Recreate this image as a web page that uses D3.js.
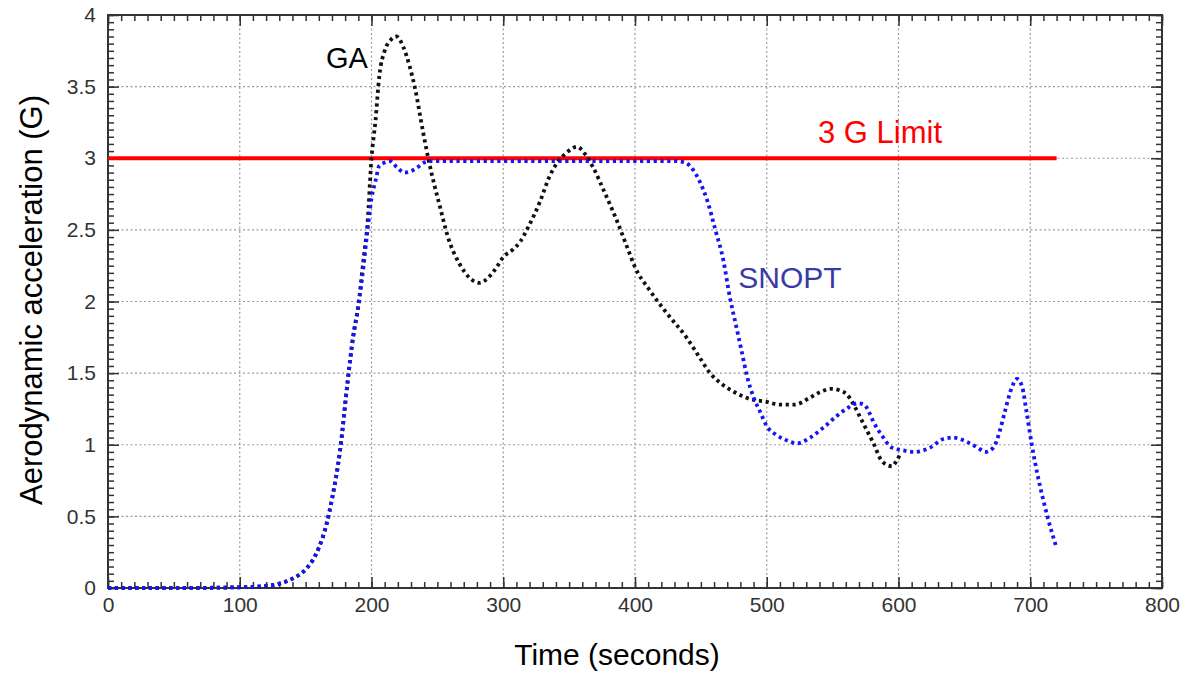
<!DOCTYPE html>
<html>
<head>
<meta charset="utf-8">
<script src="https://cdn.jsdelivr.net/npm/d3@7"></script>
<style>
  html, body { margin: 0; padding: 0; background: #fff; }
  svg { display: block; font-family: "Liberation Sans", Arial, sans-serif; }
</style>
</head>
<body>
<svg id="chart" width="1188" height="674"></svg>
<script>
// ---- Data ----
const gaTime = [0, 50, 100, 120, 130, 140, 150, 157, 160, 166, 170, 176, 182, 186, 190, 194, 197, 200, 203, 206, 210, 215, 219, 224, 229, 233, 239, 244, 252, 258, 267, 275, 282, 289, 295, 300, 307, 313, 319, 328, 335, 341, 347, 356, 362, 368, 377, 386, 394, 400, 411, 424, 439, 449, 457, 465, 475, 487, 500, 510, 521, 533, 541, 549, 555, 561, 566, 571, 576, 581, 587, 591, 595, 598, 601];
const gaAccel = [0, 0, 0.005, 0.015, 0.03, 0.065, 0.13, 0.22, 0.28, 0.45, 0.62, 0.95, 1.45, 1.75, 1.97, 2.3, 2.55, 3.0, 3.26, 3.58, 3.75, 3.83, 3.85, 3.78, 3.64, 3.49, 3.19, 2.96, 2.66, 2.45, 2.26, 2.16, 2.13, 2.17, 2.24, 2.31, 2.36, 2.42, 2.52, 2.70, 2.87, 2.97, 3.03, 3.08, 3.03, 2.94, 2.76, 2.57, 2.38, 2.24, 2.08, 1.92, 1.75, 1.61, 1.50, 1.43, 1.37, 1.32, 1.30, 1.28, 1.28, 1.33, 1.37, 1.39, 1.38, 1.35, 1.28, 1.19, 1.10, 1.01, 0.89, 0.86, 0.85, 0.88, 0.93];

const snoptTime = [0, 50, 100, 120, 130, 140, 150, 157, 160, 166, 170, 176, 182, 186, 190, 194, 197, 200, 203, 206, 210, 214, 220, 225, 230, 234, 240, 245, 260, 300, 350, 400, 430, 438, 444, 449, 455, 461, 467, 472, 477, 481, 485, 490, 495, 500, 507, 513, 523, 533, 543, 553, 562, 569, 574, 578, 581, 587, 595, 604, 612, 624, 634, 641, 652, 660, 666, 672, 677, 681, 686, 690, 694, 697, 701, 706, 710, 713, 720];
const snoptAccel = [0, 0, 0.005, 0.015, 0.03, 0.065, 0.13, 0.22, 0.28, 0.45, 0.62, 0.95, 1.45, 1.75, 1.97, 2.25, 2.5, 2.72, 2.84, 2.95, 2.97, 2.98, 2.93, 2.9, 2.91, 2.93, 2.97, 2.98, 2.98, 2.98, 2.98, 2.98, 2.98, 2.97, 2.92, 2.84, 2.70, 2.5, 2.29, 2.03, 1.82, 1.65, 1.48, 1.33, 1.23, 1.13, 1.07, 1.04, 1.01, 1.05, 1.12, 1.20, 1.26, 1.29, 1.28, 1.22, 1.16, 1.07, 0.98, 0.96, 0.95, 0.98, 1.04, 1.05, 1.02, 0.98, 0.95, 0.98, 1.10, 1.24, 1.40, 1.46, 1.40, 1.24, 1.01, 0.77, 0.61, 0.50, 0.28];

const limitValue = 3;
const limitTime = [0, 720];

const xTicks = [0, 100, 200, 300, 400, 500, 600, 700, 800];
const yTicks = [0, 0.5, 1, 1.5, 2, 2.5, 3, 3.5, 4];
const yTickLabels = ["0", "0.5", "1", "1.5", "2", "2.5", "3", "3.5", "4"];

// ---- Layout ----
const svg = d3.select("#chart");
const L = 108, R = 1162, T = 15, B = 588;
const x = d3.scaleLinear().domain([0, 800]).range([L, R]);
const y = d3.scaleLinear().domain([0, 4]).range([B, T]);

// grid
const grid = svg.append("g").attr("stroke", "#9a9a9a").attr("stroke-width", 1.2).attr("stroke-dasharray", "2,2.5");
grid.selectAll("line.gx").data(xTicks.slice(1, -1)).join("line")
  .attr("x1", d => x(d)).attr("x2", d => x(d)).attr("y1", T).attr("y2", B);
grid.selectAll("line.gy").data(yTicks.slice(1, -1)).join("line")
  .attr("y1", d => y(d)).attr("y2", d => y(d)).attr("x1", L).attr("x2", R);

// minor/major ticks on all sides (inward)
const minorX = d3.range(0, 801, 10);
const minorY = d3.range(0, 4.001, 0.05);
function addAxis(gen, tr) {
  const g = svg.append("g").attr("transform", tr).call(gen);
  g.select(".domain").remove();
  g.selectAll("line").attr("stroke", "#333").attr("stroke-width", 1.5);
  return g;
}
addAxis(d3.axisBottom(x).tickValues(minorX).tickSize(-6).tickFormat(""), `translate(0,${B})`);
addAxis(d3.axisTop(x).tickValues(minorX).tickSize(-6).tickFormat(""), `translate(0,${T})`);
addAxis(d3.axisLeft(y).tickValues(minorY).tickSize(-6).tickFormat(""), `translate(${L},0)`);
addAxis(d3.axisRight(y).tickValues(minorY).tickSize(-6).tickFormat(""), `translate(${R},0)`);
addAxis(d3.axisBottom(x).tickValues(xTicks).tickSize(-11).tickFormat(""), `translate(0,${B})`);
addAxis(d3.axisTop(x).tickValues(xTicks).tickSize(-11).tickFormat(""), `translate(0,${T})`);
addAxis(d3.axisLeft(y).tickValues(yTicks).tickSize(-11).tickFormat(""), `translate(${L},0)`);
addAxis(d3.axisRight(y).tickValues(yTicks).tickSize(-11).tickFormat(""), `translate(${R},0)`);

// frame
svg.append("rect").attr("x", L).attr("y", T).attr("width", R - L).attr("height", B - T)
  .attr("fill", "none").attr("stroke", "#333").attr("stroke-width", 2);

// tick labels
const xl = svg.append("g").attr("transform", `translate(0,${B})`)
  .call(d3.axisBottom(x).tickValues(xTicks).tickSize(0).tickPadding(9).tickFormat(d3.format("d")));
xl.select(".domain").remove();
xl.selectAll("text").attr("font-size", 21).attr("fill", "#333").attr("font-family", "Liberation Sans, Arial, sans-serif");

const yl = svg.append("g").attr("transform", `translate(${L},0)`)
  .call(d3.axisLeft(y).tickValues(yTicks).tickSize(0).tickPadding(12).tickFormat((d, i) => yTickLabels[i]));
yl.select(".domain").remove();
yl.selectAll("text").attr("font-size", 21).attr("fill", "#333").attr("font-family", "Liberation Sans, Arial, sans-serif");

// limit line
svg.append("line")
  .attr("x1", x(limitTime[0])).attr("x2", x(limitTime[1]))
  .attr("y1", y(limitValue)).attr("y2", y(limitValue))
  .attr("stroke", "#ff0000").attr("stroke-width", 4);

// curves
const line = d3.line().x(d => x(d[0])).y(d => y(d[1])).curve(d3.curveMonotoneX);
const gaData = gaTime.map((t, i) => [t, gaAccel[i]]);
const snData = snoptTime.map((t, i) => [t, snoptAccel[i]]);

svg.append("path").attr("d", line(gaData)).attr("fill", "none")
  .attr("stroke", "#111").attr("stroke-width", 3.8).attr("stroke-dasharray", "3.2,3.6");
svg.append("path").attr("d", line(snData)).attr("fill", "none")
  .attr("stroke", "#1515f5").attr("stroke-width", 3.8).attr("stroke-dasharray", "3.2,3.6");

// annotations
svg.append("text").attr("x", 347).attr("y", 68).attr("text-anchor", "middle")
  .attr("font-size", 29).attr("fill", "#000").text("GA");
svg.append("text").attr("x", 880).attr("y", 143).attr("text-anchor", "middle")
  .attr("font-size", 31).attr("fill", "#ff0000").text("3 G Limit");
svg.append("text").attr("x", 790).attr("y", 288).attr("text-anchor", "middle")
  .attr("font-size", 30).attr("fill", "#3a3aa6").text("SNOPT");

// axis titles
svg.append("text").attr("x", 617).attr("y", 665).attr("text-anchor", "middle")
  .attr("font-size", 30).attr("fill", "#000").text("Time (seconds)");
svg.append("text").attr("transform", `translate(42,300) rotate(-90)`)
  .attr("text-anchor", "middle").attr("font-size", 31).attr("fill", "#000")
  .text("Aerodynamic acceleration (G)");
</script>
</body>
</html>
